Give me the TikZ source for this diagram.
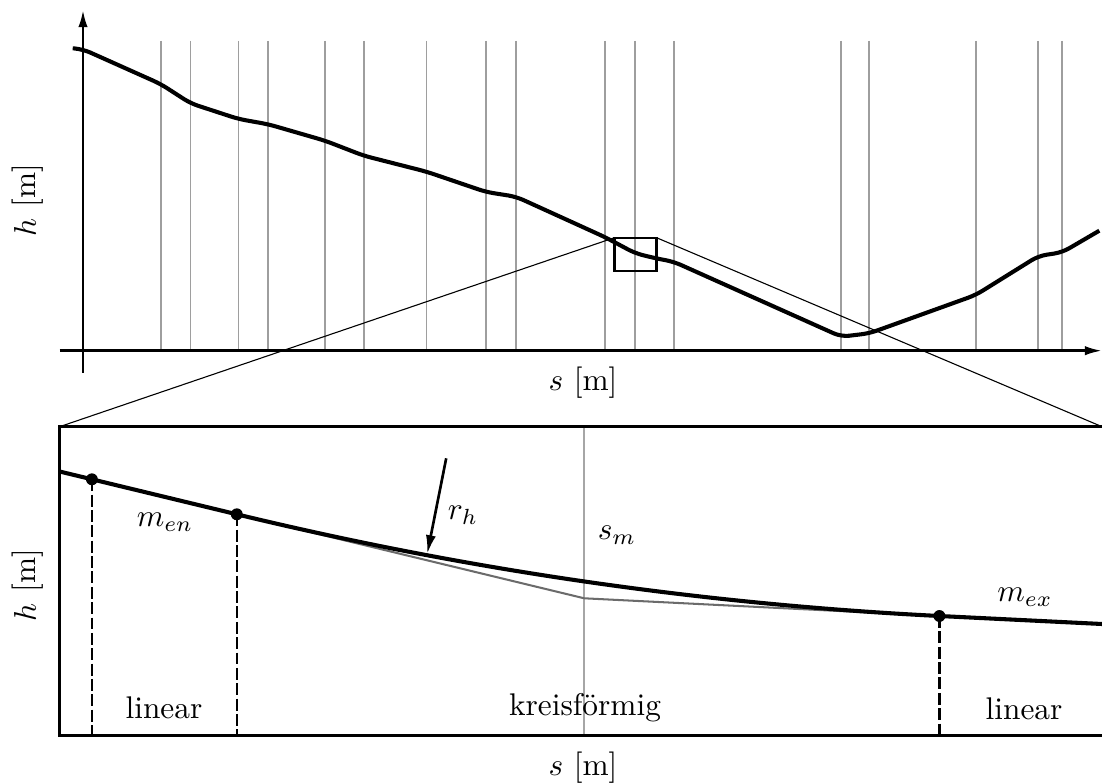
\documentclass[tikz,border=0pt]{standalone}
\usepackage{amsmath,amssymb}
\usepackage{xcolor}
\usepackage{tikz}
\usetikzlibrary{calc,arrows.meta,positioning}

\begin{document}
\begin{tikzpicture}[
    x=0.319pt, y=-0.319pt,
    gridline/.style={black!38, line width=0.6pt},
    profile/.style={line width=1.3pt, line join=round},
    ax/.style={-{Latex[length=5.5pt,width=3pt]}, line width=0.8pt},
    zoomline/.style={line width=0.35pt},
    dashline/.style={line width=0.7pt, dash pattern=on 3.8pt off 1.1pt},
    lbl/.style={inner sep=1pt}
]
    \useasboundingbox (0,0) rectangle (1102,783);

    % upper plot
    \foreach \s in {160.6,190.5,238.5,268.3,325,363.7,426.5,486.1,516,605.3,635.2,673.6,841.2,869.4,975.7,1038.4,1062.3}
        \draw[gridline] (\s,41) -- (\s,350.7);
    \draw[ax] (59.6,350.7) -- (1102,350.7);
    \draw[ax] (83,373) -- (83,10);
    \draw[profile, rounded corners=2.5pt] (72.7,48.3) -- (83,49.3) -- (160.6,84) -- (190.5,103.3)
        -- (238.5,119) -- (268.3,124.3) -- (325,140.7) -- (363.7,155.7) -- (426.5,171.7)
        -- (486.1,192) -- (516,196.7) -- (605.3,237.3) -- (635.2,253.3) -- (655.6,258.3)
        -- (673.6,261.7) -- (841.2,336.7) -- (869.4,333.3) -- (975.7,295) -- (1038.4,256)
        -- (1062.3,252.3) -- (1099.3,230.7);
    \node[rotate=90] (hup) at (28,200) {$h$ [m]};
    \node (sup) at (583,383) {$s$ [m]};

    % zoom window
    \coordinate (zl) at (614.4,237.7);
    \coordinate (zr) at (656.5,237.7);
    \draw[line width=0.75pt] (zl) rectangle (656.5,271);
    \coordinate (fl) at (59.6,426.7);
    \coordinate (fr) at (1102,426.7);
    \coordinate (fb) at (59.6,735.7);
    \draw[zoomline] (zl) -- (fl);
    \draw[zoomline] (zr) -- (fr);

    % lower plot
    \coordinate (p1) at (91.9,479.3);
    \coordinate (p2) at (236.8,514.3);
    \coordinate (pv) at (584.2,598.3);
    \coordinate (p3) at (939.4,616);
    \draw[black!35, line width=0.5pt] (pv |- fl) -- (pv |- fb);
    \draw[black!58, line width=0.65pt] (p2) -- (pv) -- (p3);
    \draw[profile] (59.6,471.5) -- (p1) -- (p2)
        .. controls ($(p2)!2/3!(pv)$) and ($(p3)!2/3!(pv)$) .. (p3) -- (1104,624.1);
    \foreach \p in {p1,p2,p3} {
        \draw[dashline] (\p) -- (\p |- fb);
        \fill (\p) circle (1.9pt);
    }
    \draw[line width=1.05pt] (1106,426.7) -- (fl) -- (fb) -- (1106,735.7);

    \coordinate (rt) at (446.2,458.3);
    \coordinate (rp) at (427.2,554);
    \draw[-{Latex[length=6pt,width=3.2pt]}, line width=0.85pt] (rt) -- (rp);

    \node[lbl] (men) at (165,522) {$m_{en}$};
    \node[lbl] (rh) at (463,515) {$r_h$};
    \node[lbl] (sm) at (617,535) {$s_m$};
    \node[lbl] (mex) at (1025,597) {$m_{ex}$};
    \node[lbl] (lina) at (164,708) {linear};
    \node[lbl] (kreis) at (585,708) {kreisförmig};
    \node[lbl] (linb) at (1024,709) {linear};
    \node[rotate=90] (hlow) at (28,585) {$h$ [m]};
    \node (slow) at (583,768) {$s$ [m]};
\end{tikzpicture}
\end{document}
